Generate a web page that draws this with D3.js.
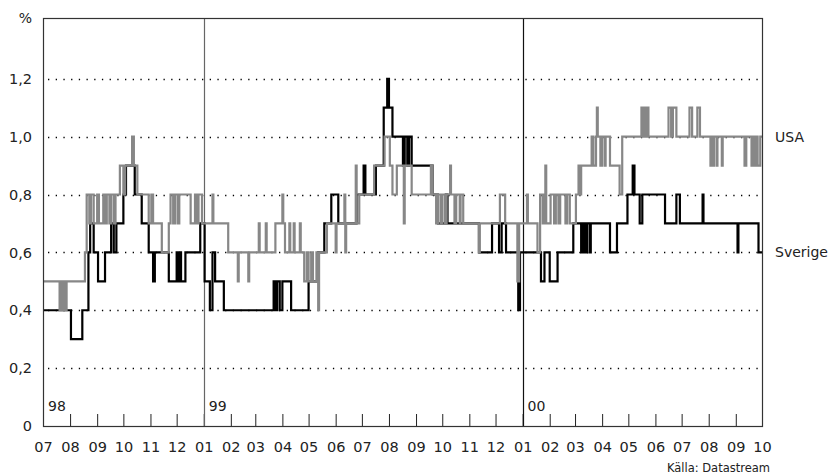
<!DOCTYPE html>
<html>
<head>
<meta charset="utf-8">
<script src="https://cdn.jsdelivr.net/npm/d3@7"></script>
<style>
  body { margin: 0; background: #fff; }
  svg text { font-family: "DejaVu Sans", sans-serif; fill: #222; }
</style>
</head>
<body>
<div id="chart"></div>
<script>
// Sverige and USA, daily values (change points), % 
var sverige = [
  ["1998-07-01",0.4],["1998-08-02",0.3],["1998-08-15",0.4],["1998-08-22",0.6],["1998-08-24",0.7],["1998-08-28",0.6],
  ["1998-09-02",0.5],["1998-09-10",0.6],["1998-09-17",0.7],["1998-09-20",0.6],["1998-09-23",0.7],["1998-10-01",0.8],
  ["1998-10-04",0.9],["1998-10-14",0.8],["1998-10-22",0.7],["1998-10-30",0.6],["1998-11-04",0.5],["1998-11-06",0.6],
  ["1998-11-22",0.5],["1998-12-01",0.6],["1998-12-03",0.5],["1998-12-05",0.6],["1998-12-06",0.5],["1998-12-11",0.6],
  ["1998-12-28",0.7],["1999-01-02",0.5],["1999-01-08",0.4],["1999-01-11",0.6],["1999-01-14",0.5],["1999-01-24",0.4],
  ["1999-03-22",0.5],["1999-03-24",0.4],["1999-03-26",0.5],["1999-03-29",0.4],["1999-04-01",0.5],["1999-04-11",0.4],
  ["1999-05-01",0.5],["1999-05-12",0.6],["1999-05-19",0.7],["1999-05-27",0.8],["1999-06-04",0.7],["1999-06-25",0.8],
  ["1999-07-03",0.9],["1999-07-05",0.8],["1999-07-17",0.9],["1999-07-26",1.1],["1999-07-30",1.2],["1999-08-01",1.1],
  ["1999-08-05",1.0],["1999-08-17",0.9],["1999-08-19",1.0],["1999-08-22",0.9],["1999-08-24",1.0],["1999-08-27",0.9],
  ["1999-09-20",0.8],["1999-09-26",0.7],["1999-10-05",0.8],["1999-10-07",0.7],["1999-11-12",0.6],["1999-11-27",0.7],
  ["1999-12-05",0.6],["1999-12-08",0.7],["1999-12-13",0.6],["1999-12-27",0.4],["1999-12-29",0.6],["2000-01-22",0.5],
  ["2000-01-26",0.6],["2000-02-01",0.5],["2000-02-10",0.6],["2000-02-28",0.7],["2000-03-08",0.6],["2000-03-09",0.7],
  ["2000-03-11",0.6],["2000-03-12",0.7],["2000-03-14",0.6],["2000-03-15",0.7],["2000-03-18",0.6],["2000-03-19",0.7],
  ["2000-04-10",0.6],["2000-04-18",0.7],["2000-04-30",0.8],["2000-05-06",0.9],["2000-05-08",0.8],["2000-05-14",0.7],
  ["2000-05-17",0.8],["2000-06-12",0.7],["2000-06-25",0.8],["2000-06-29",0.7],["2000-07-25",0.8],["2000-07-26",0.7],
  ["2000-09-03",0.6],["2000-09-04",0.7],["2000-09-27",0.6],["2000-10-01",0.6]
];

var usa = [
  ["1998-07-01",0.5],["1998-07-20",0.4],["1998-07-21",0.5],["1998-07-23",0.4],["1998-07-24",0.5],["1998-07-26",0.4],
  ["1998-07-28",0.5],["1998-08-18",0.6],["1998-08-20",0.8],["1998-08-23",0.7],["1998-08-25",0.8],["1998-08-28",0.7],
  ["1998-09-01",0.8],["1998-09-03",0.7],["1998-09-08",0.8],["1998-09-10",0.7],["1998-09-12",0.8],["1998-09-15",0.7],
  ["1998-09-17",0.8],["1998-09-20",0.7],["1998-09-22",0.8],["1998-09-27",0.9],["1998-10-01",0.8],["1998-10-03",0.9],
  ["1998-10-11",1.0],["1998-10-13",0.9],["1998-10-17",0.8],["1998-10-30",0.7],["1998-11-02",0.8],["1998-11-04",0.7],
  ["1998-11-14",0.6],["1998-11-22",0.7],["1998-11-24",0.8],["1998-11-27",0.7],["1998-11-29",0.8],["1998-12-02",0.7],
  ["1998-12-04",0.8],["1998-12-17",0.7],["1998-12-22",0.8],["1998-12-24",0.7],["1998-12-26",0.8],["1998-12-30",0.7],
  ["1999-01-11",0.8],["1999-01-12",0.7],["1999-01-29",0.6],["1999-02-09",0.5],["1999-02-10",0.6],["1999-02-21",0.5],
  ["1999-02-22",0.6],["1999-03-05",0.7],["1999-03-06",0.6],["1999-03-13",0.7],["1999-03-14",0.6],["1999-03-24",0.7],
  ["1999-04-01",0.8],["1999-04-02",0.7],["1999-04-04",0.6],["1999-04-09",0.7],["1999-04-10",0.6],["1999-04-14",0.7],
  ["1999-04-15",0.6],["1999-04-21",0.7],["1999-04-22",0.6],["1999-04-26",0.5],["1999-04-29",0.6],["1999-05-01",0.5],
  ["1999-05-04",0.6],["1999-05-06",0.5],["1999-05-10",0.6],["1999-05-12",0.4],["1999-05-13",0.6],["1999-05-22",0.7],
  ["1999-06-01",0.6],["1999-06-02",0.7],["1999-06-11",0.8],["1999-06-12",0.6],["1999-06-13",0.7],["1999-06-24",0.9],
  ["1999-06-25",0.7],["1999-06-28",0.8],["1999-07-15",0.9],["1999-07-27",1.0],["1999-08-02",0.9],["1999-08-05",0.8],
  ["1999-08-10",0.9],["1999-08-18",0.7],["1999-08-19",0.9],["1999-08-27",0.8],["1999-09-18",0.9],["1999-09-20",0.8],
  ["1999-09-24",0.7],["1999-09-26",0.8],["1999-09-29",0.7],["1999-10-01",0.8],["1999-10-04",0.7],["1999-10-06",0.8],
  ["1999-10-10",0.9],["1999-10-11",0.8],["1999-10-15",0.7],["1999-10-17",0.8],["1999-10-21",0.7],["1999-10-22",0.8],
  ["1999-10-25",0.7],["1999-11-12",0.6],["1999-11-13",0.7],["1999-12-06",0.8],["1999-12-12",0.7],["1999-12-26",0.5],
  ["1999-12-28",0.7],["2000-01-06",0.8],["2000-01-07",0.7],["2000-01-18",0.6],["2000-01-21",0.8],["2000-01-24",0.7],
  ["2000-01-26",0.8],["2000-01-27",0.9],["2000-01-28",0.7],["2000-02-02",0.8],["2000-02-06",0.7],["2000-02-08",0.8],
  ["2000-02-11",0.7],["2000-02-13",0.8],["2000-02-19",0.7],["2000-02-21",0.8],["2000-02-24",0.7],["2000-03-02",0.8],
  ["2000-03-05",0.9],["2000-03-07",0.8],["2000-03-08",0.9],["2000-03-20",1.0],["2000-03-22",0.9],["2000-03-25",1.0],
  ["2000-03-26",1.1],["2000-03-27",1.0],["2000-03-30",0.9],["2000-04-01",1.0],["2000-04-04",0.9],["2000-04-05",1.0],
  ["2000-04-10",0.9],["2000-04-21",0.8],["2000-04-24",1.0],["2000-05-16",1.1],["2000-05-18",1.0],["2000-05-19",1.1],
  ["2000-05-21",1.0],["2000-05-22",1.1],["2000-05-24",1.0],["2000-06-16",1.1],["2000-06-19",1.0],["2000-06-21",1.1],
  ["2000-06-25",1.0],["2000-07-10",1.1],["2000-07-13",1.0],["2000-07-19",1.1],["2000-07-22",1.0],["2000-08-03",0.9],
  ["2000-08-05",1.0],["2000-08-06",0.9],["2000-08-07",1.0],["2000-08-10",0.9],["2000-08-11",1.0],["2000-08-16",0.9],
  ["2000-08-17",1.0],["2000-09-11",0.9],["2000-09-13",1.0],["2000-09-19",0.9],["2000-09-20",1.0],["2000-09-22",0.9],
  ["2000-09-24",1.0],["2000-09-26",0.9],["2000-09-29",1.0],["2000-10-01",1.0]
];

var yTicks = [0, 0.2, 0.4, 0.6, 0.8, 1.0, 1.2];
var yTickLabels = ["0", "0,2", "0,4", "0,6", "0,8", "1,0", "1,2"];
var yearStarts = ["1998-07-01", "1999-01-01", "2000-01-01"];
var yearLabels = ["98", "99", "00"];

var parse = d3.timeParse("%Y-%m-%d");
var width = 831, height = 475;
var margin = { top: 18, right: 69, bottom: 49, left: 43 };
var plotW = width - margin.left - margin.right;
var plotH = height - margin.top - margin.bottom;

var svg = d3.select("#chart").append("svg")
    .attr("width", width)
    .attr("height", height);

var g = svg.append("g")
    .attr("transform", "translate(" + margin.left + "," + margin.top + ")");

var x = d3.scaleTime()
    .domain([parse("1998-07-01"), parse("2000-10-01")])
    .range([0, plotW]);

var y = d3.scaleLinear()
    .domain([0, 1.41])
    .range([plotH, 0]);

// dotted grid
g.selectAll(".grid")
    .data(yTicks.slice(1))
    .enter().append("line")
    .attr("x1", 5).attr("x2", plotW - 4)
    .attr("y1", function (d) { return Math.round(y(d)) + 0.5; })
    .attr("y2", function (d) { return Math.round(y(d)) + 0.5; })
    .attr("stroke", "#000")
    .attr("stroke-width", 1.3)
    .attr("stroke-dasharray", "1.3,6.4");

// month ticks and labels
var months = d3.timeMonth.range(parse("1998-07-01"), parse("2000-10-02"));
g.append("g")
    .attr("transform", "translate(0," + plotH + ")")
    .call(d3.axisBottom(x).tickValues(months).tickSizeInner(-12).tickSizeOuter(0)
        .tickPadding(16).tickFormat(d3.timeFormat("%m")))
    .call(function (a) {
        a.select(".domain").remove();
        a.selectAll("line").attr("stroke", "#222");
        a.selectAll("text").attr("font-size", 14.5).attr("font-family", "DejaVu Sans").attr("fill", "#222");
    });

// y labels
g.append("g")
    .call(d3.axisLeft(y).tickValues(yTicks).tickSize(0).tickPadding(11)
        .tickFormat(function (d, i) { return yTickLabels[i]; }))
    .call(function (a) {
        a.select(".domain").remove();
        a.selectAll("text").attr("font-size", 14.5).attr("font-family", "DejaVu Sans").attr("fill", "#222");
    });

g.append("text")
    .attr("x", -11).attr("y", 5)
    .attr("text-anchor", "end")
    .attr("font-size", 14)
    .text("%");

// year separators
g.selectAll(".year-line")
    .data(yearStarts.slice(1))
    .enter().append("line")
    .attr("x1", function (d) { return Math.round(x(parse(d))) + 0.5; })
    .attr("x2", function (d) { return Math.round(x(parse(d))) + 0.5; })
    .attr("y1", 0).attr("y2", plotH)
    .attr("stroke", function (d, i) { return i === 0 ? "#666" : "#111"; })
    .attr("stroke-width", 1.2);

g.selectAll(".year-label")
    .data(yearStarts)
    .enter().append("text")
    .attr("x", function (d) { return x(parse(d)) + 5; })
    .attr("y", plotH - 15)
    .attr("font-size", 14)
    .text(function (d, i) { return yearLabels[i]; });

// series
var line = d3.line()
    .curve(d3.curveStepAfter)
    .x(function (d) { return x(parse(d[0])); })
    .y(function (d) { return y(d[1]); });

g.append("path")
    .datum(sverige)
    .attr("d", line)
    .attr("fill", "none")
    .attr("stroke", "#000")
    .attr("stroke-width", 2.2);

g.append("path")
    .datum(usa)
    .attr("d", line)
    .attr("fill", "none")
    .attr("stroke", "#878787")
    .attr("stroke-width", 2.2);

// frame
g.append("rect")
    .attr("x", 0.5).attr("y", 0.5)
    .attr("width", plotW).attr("height", plotH)
    .attr("fill", "none")
    .attr("stroke", "#333")
    .attr("stroke-width", 1.2);

// series labels
g.append("text")
    .attr("x", plotW + 13)
    .attr("y", y(usa[usa.length - 1][1]))
    .attr("dy", "0.35em")
    .attr("font-size", 14)
    .text("USA");

g.append("text")
    .attr("x", plotW + 13)
    .attr("y", y(sverige[sverige.length - 1][1]))
    .attr("dy", "0.35em")
    .attr("font-size", 14)
    .text("Sverige");

svg.append("text")
    .attr("x", 770).attr("y", 472)
    .attr("text-anchor", "end")
    .attr("font-size", 11.5)
    .text("Källa: Datastream");
</script>
</body>
</html>
